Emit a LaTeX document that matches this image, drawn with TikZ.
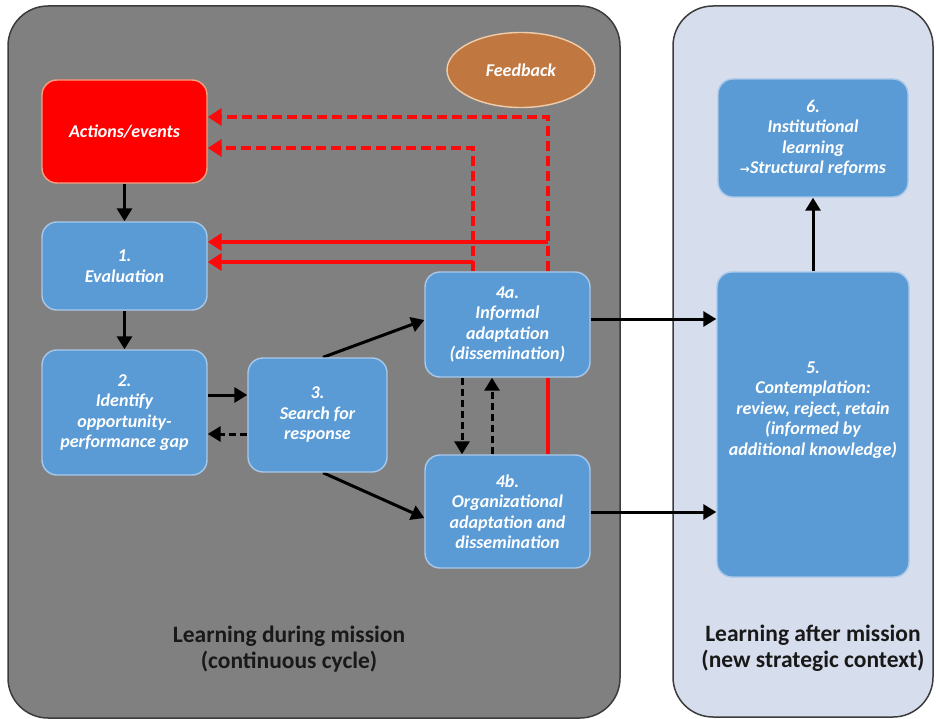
\documentclass[tikz,border=0pt]{standalone}
\usepackage{fontspec}
\setmainfont{Carlito}
\newfontfamily\djv{DejaVu Sans}
\usetikzlibrary{arrows.meta,shapes.geometric}
\pgfdeclarelayer{bg}
\pgfdeclarelayer{edges}
\pgfsetlayers{bg,edges,main}
\definecolor{panelgray}{RGB}{128,128,128}
\definecolor{panelline}{RGB}{60,60,60}
\definecolor{panelblue}{RGB}{214,221,236}
\definecolor{boxblue}{RGB}{91,155,213}
\definecolor{boxedge}{RGB}{168,200,234}
\definecolor{redfill}{RGB}{255,0,0}
\definecolor{rededge}{RGB}{248,160,130}
\definecolor{fbfill}{RGB}{192,120,64}
\definecolor{fbedge}{RGB}{240,205,170}
\definecolor{redline}{RGB}{250,10,10}
\definecolor{titletext}{RGB}{25,25,25}
\tikzset{
  boxtext/.style={text=white, font=\fontsize{18}{20.5}\selectfont\bfseries\itshape, align=center},
  box/.style={boxtext, draw=boxedge, line width=1.4pt, fill=boxblue, rounded corners=15pt, inner sep=0pt},
  redbox/.style={box, fill=redfill, draw=rededge},
  paneltitle/.style={text=titletext, font=\fontsize{23.5}{26}\selectfont\bfseries, align=center},
  blk/.style={line width=3pt, -{Triangle[length=13pt,width=15pt]}},
  blkdash/.style={blk, dash pattern=on 7pt off 4pt},
  redarrow/.style={draw=redline, line width=3.8pt, -{Triangle[length=14pt,width=17pt]}},
  reddash/.style={redarrow, dash pattern=on 10pt off 5pt},
  redplain/.style={draw=redline, line width=3.8pt}
}
\begin{document}
\begin{tikzpicture}[x=1pt,y=1pt]
\useasboundingbox (0,0) rectangle (936,-719);
\begin{pgfonlayer}{bg}
  \draw[panelline, line width=1.5pt, fill=panelgray, rounded corners=40pt] (8,-6) rectangle (620,-718);
  \draw[panelline, line width=1.5pt, fill=panelblue, rounded corners=40pt] (673,-6) rectangle (933,-717);
\end{pgfonlayer}

\node[redbox, minimum width=165pt, minimum height=103pt] (act) at (124.5,-131.5) {Actions/events};
\node[box, minimum width=165pt, minimum height=88pt] (ev) at (124.5,-266) {1.\\Evaluation};
\node[box, minimum width=165pt, minimum height=125pt] (idg) at (124.5,-412.5) {2.\\Identify\\opportunity-\\performance gap};
\node[box, minimum width=139pt, minimum height=114pt] (srch) at (317.5,-415) {3.\\Search for\\response};
\node[box, minimum width=165pt, minimum height=105pt] (a4) at (507.5,-324.5) {4a.\\Informal\\adaptation\\(dissemination)};
\node[box, minimum width=165pt, minimum height=113pt] (b4) at (507.5,-511.5) {4b.\\Organizational\\adaptation and\\dissemination};
\node[box, minimum width=192pt, minimum height=305pt] (c5) at (813,-424.5) {};
\node[boxtext] (c5t) at (813,-410) {5.\\Contemplation:\\review, reject, retain\\(informed by\\additional knowledge)};
\node[box, minimum width=190pt, minimum height=118pt] (d6) at (813,-138) {6.\\Institutional\\learning\\{\djv\fontsize{12}{20}\selectfont →}Structural reforms};
\node[ellipse, fill=fbfill, draw=fbedge, line width=1.4pt, minimum width=148pt, minimum height=75pt, boxtext] (fb) at (521,-70) {Feedback};

\node[paneltitle] (t1) at (289,-649) {Learning during mission\\(continuous cycle)};
\node[paneltitle] (t2) at (813,-648) {Learning after mission\\(new strategic context)};

\begin{pgfonlayer}{edges}
  \draw[blk] (act) -- (ev);
  \draw[blk] (ev) -- (idg);
  \draw[blk] ([yshift=17.5pt]idg.east) -- ([yshift=20pt]srch.west);
  \draw[blkdash] ([yshift=-19pt]srch.west) -- ([yshift=-21.5pt]idg.east);
  \draw[blk] ([xshift=5.5pt]srch.north) -- ([yshift=4.5pt]a4.west);
  \draw[blk] ([xshift=5.5pt]srch.south) -- ([yshift=-6.5pt]b4.west);
  \draw[blkdash] ([xshift=-45.5pt]a4.south) -- ([xshift=-45.5pt]b4.north);
  \draw[blkdash] ([xshift=-15.5pt]b4.north) -- ([xshift=-15.5pt]a4.south);
  \draw[blk] ([yshift=5.5pt]a4.east) -- ([yshift=105.5pt]c5.west);
  \draw[blk] ([yshift=-0.5pt]b4.east) -- ([yshift=-87.5pt]c5.west);
  \draw[blk] (c5) -- (d6);
  % red feedback lines
  \draw[redplain] ([xshift=40.5pt]b4.north) -- ([xshift=40.5pt]a4.south);
  \draw[reddash] ([xshift=40.5pt]a4.north) |- ([yshift=14.5pt]act.east);
  \draw[reddash] ([xshift=-34.5pt]a4.north) |- ([yshift=-16.5pt]act.east);
  \coordinate (j1) at (548,-242);
  \coordinate (j2) at (473,-262);
  \draw[redarrow] (j1) -- ([yshift=24pt]ev.east);
  \draw[redarrow] (j2) -- ([yshift=4pt]ev.east);
\end{pgfonlayer}
\end{tikzpicture}
\end{document}
